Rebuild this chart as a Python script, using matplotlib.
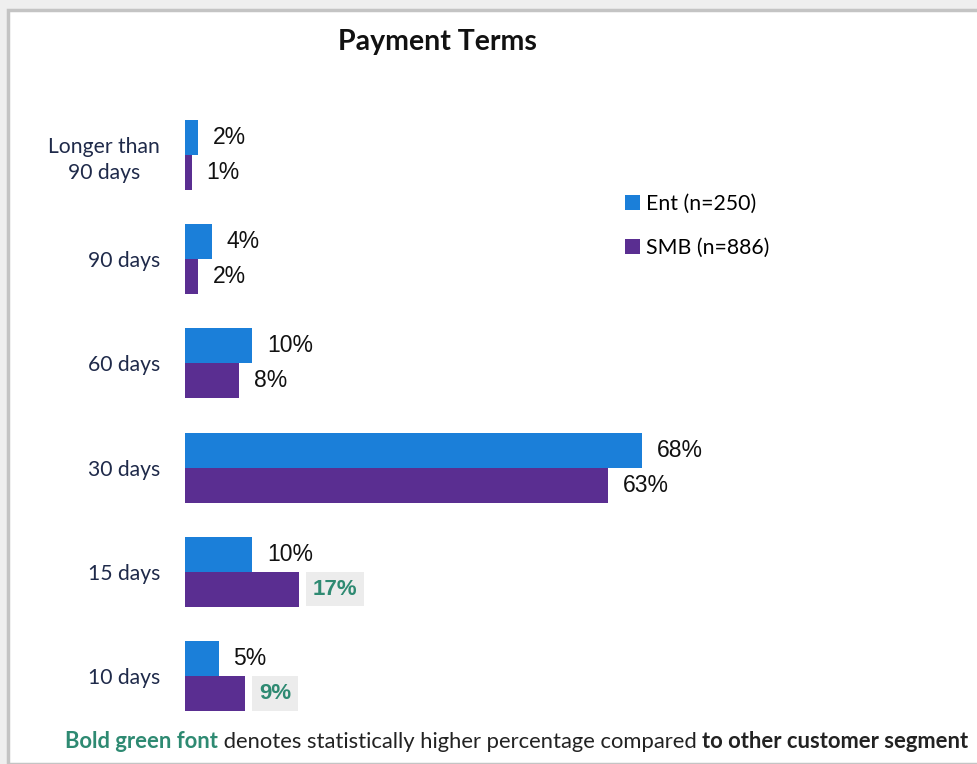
import matplotlib
matplotlib.use("Agg")
import matplotlib.pyplot as plt
from matplotlib.patches import Rectangle
import numpy as np

categories = ["Longer than\n90 days", "90 days", "60 days", "30 days", "15 days", "10 days"]
ent = [2, 4, 10, 68, 10, 5]
smb = [1, 2, 8, 63, 17, 9]
ent_sig = [False] * 6
smb_sig = [False, False, False, False, True, True]
series_names = ["Ent (n=250)", "SMB (n=886)"]

W, H = 977, 764
fig = plt.figure(figsize=(W / 100, H / 100), dpi=100)
fig.patch.set_facecolor("#efefef")
fig.patches.append(Rectangle((8 / W, 0), 1.0, 1 - 10 / H, transform=fig.transFigure,
                             facecolor="white", edgecolor="#c4c4c4", linewidth=2.5, zorder=-5))

ENT_C = "#1b7fd9"
SMB_C = "#5a2e91"
GREEN = "#2e8a72"
LBL = "#1f2a4a"
UI = "Lato"
NUM = "Liberation Sans"

left_px, right_px, top_px, bot_px = 185, 857, 100, 730
ax = fig.add_axes([left_px / W, 1 - bot_px / H, (right_px - left_px) / W, (bot_px - top_px) / H])
ax.set_facecolor("none")
sp = 104.2
ax.set_xlim(0, 100)
ax.set_ylim((bot_px - 155) / sp, -(155 - top_px) / sp)
h = 35 / sp
y = np.arange(len(categories))
ax.barh(y - h / 2, ent, height=h, color=ENT_C, label=series_names[0])
ax.barh(y + h / 2, smb, height=h, color=SMB_C, label=series_names[1])

for i in range(len(categories)):
    for val, sig, yy in ((ent[i], ent_sig[i], y[i] - h / 2), (smb[i], smb_sig[i], y[i] + h / 2)):
        if sig:
            ax.text(val + 2.0, yy, f"{val}%", va="center", ha="left", fontsize=16, fontweight="bold",
                    color=GREEN, family=NUM,
                    bbox=dict(boxstyle="square,pad=0.3", facecolor="#ececec", edgecolor="none"))
        else:
            ax.text(val + 2.2, yy, f"{val}%", va="center", ha="left", fontsize=16.5,
                    color="#111111", family=NUM)

ax.set_yticks(y)
ax.set_yticklabels(categories, family=UI, fontsize=15.2, color=LBL, linespacing=1.38,
                   multialignment="center")
ax.tick_params(axis="y", length=0, pad=18)
ax.set_xticks([])
for s in ax.spines.values():
    s.set_visible(False)

leg = fig.legend(*ax.get_legend_handles_labels(), loc="center left",
                 bbox_to_anchor=(625 / W, 1 - 226 / H), bbox_transform=fig.transFigure,
                 frameon=False, prop={"family": UI, "size": 15.3}, handlelength=0.7, handleheight=0.7,
                 handletextpad=0.3, labelspacing=1.15, borderaxespad=0, borderpad=0)

fig.text(437 / W, 1 - 42 / H, "Payment Terms", ha="center", va="center", family=UI,
         fontsize=20.5, fontweight="bold", color="#111111")

# footer composed of several runs
parts = [("Bold green font", GREEN, "bold"),
         (" denotes statistically higher percentage compared ", "#222222", "normal"),
         ("to other customer segment", "#222222", "bold")]
fig.canvas.draw()
r = fig.canvas.get_renderer()
x = 65
for txt, col, wt in parts:
    t = fig.text(x / W, 1 - 742 / H, txt, ha="left", va="center", family=UI, fontsize=15.85,
                 color=col, fontweight=wt)
    bb = t.get_window_extent(renderer=r)
    x += bb.width

fig.savefig("out.png", dpi=100, facecolor=fig.get_facecolor())
